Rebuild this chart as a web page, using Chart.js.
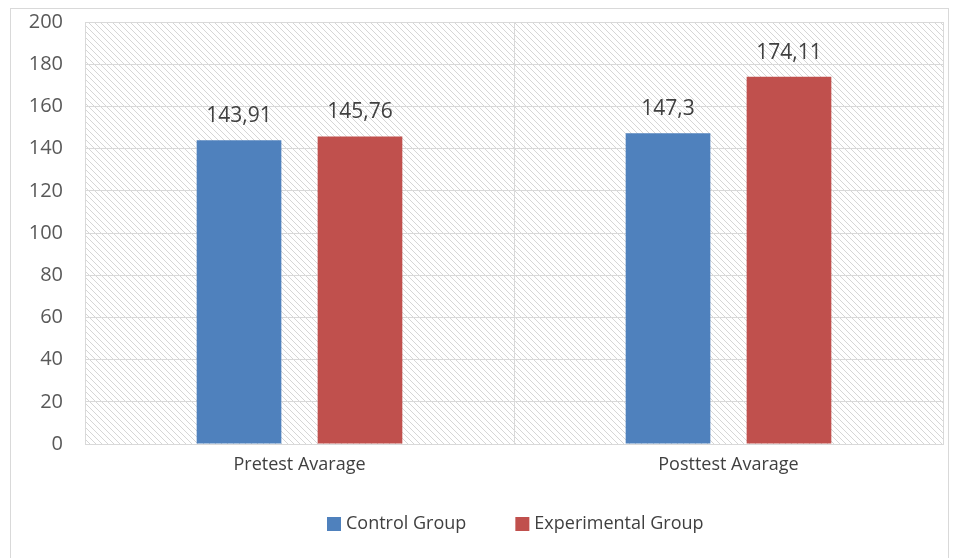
<!DOCTYPE html>
<html>
<head>
<meta charset="utf-8">
<script src="https://cdn.jsdelivr.net/npm/chart.js@4/dist/chart.umd.min.js"></script>
<style>
  html, body { margin: 0; padding: 0; background: #fff; }
  #wrap { position: relative; width: 963px; height: 558px; }
  #frame { position: absolute; left: 10px; top: 8px; width: 937px; height: 560px; border: 1px solid #d9d9d9; }
  canvas { position: absolute; left: 0; top: 0; }
</style>
</head>
<body>
<div id="wrap">
  <div id="frame"></div>
  <canvas id="chart" width="963" height="558"></canvas>
</div>
<script>
const categories = ['Pretest Avarage', 'Posttest Avarage'];
const controlGroup = [143.91, 147.3];
const experimentalGroup = [145.76, 174.11];
const seriesNames = ['Control Group', 'Experimental Group'];

const FONT = '"Open Sans", sans-serif';

// diagonal hatch for the plot background
function makeHatch() {
    const c = document.createElement('canvas');
    c.width = 6; c.height = 6;
    const g = c.getContext('2d');
    g.fillStyle = '#ffffff';
    g.fillRect(0, 0, 6, 6);
    g.strokeStyle = '#d6d6d6';
    g.lineWidth = 1;
    g.beginPath();
    g.moveTo(0, 0); g.lineTo(6, 6);
    g.moveTo(-3, 3); g.lineTo(3, 9);
    g.moveTo(3, -3); g.lineTo(9, 3);
    g.stroke();
    return c;
}

const hatchBg = {
    id: 'hatchBg',
    beforeDraw(chart) {
        const { ctx, chartArea: a } = chart;
        ctx.save();
        ctx.fillStyle = ctx.createPattern(makeHatch(), 'repeat');
        ctx.fillRect(a.left, a.top, a.right - a.left, a.bottom - a.top);
        ctx.restore();
    }
};

const valueLabels = {
    id: 'valueLabels',
    afterDatasetsDraw(chart) {
        const ctx = chart.ctx;
        ctx.save();
        ctx.font = '21px ' + FONT;
        ctx.fillStyle = '#404040';
        ctx.textAlign = 'center';
        ctx.textBaseline = 'middle';
        chart.data.datasets.forEach((ds, i) => {
            chart.getDatasetMeta(i).data.forEach((bar, j) => {
                const txt = String(ds.data[j]).replace('.', ',');
                ctx.fillText(txt, bar.x, bar.y - 24);
            });
        });
        ctx.restore();
    }
};

// legend drawn by hand so the spacing matches the original
const bottomLegend = {
    id: 'bottomLegend',
    afterDraw(chart) {
        const ctx = chart.ctx;
        ctx.save();
        ctx.font = '18px ' + FONT;
        ctx.textBaseline = 'middle';
        let x = 327;
        const y = 524;
        chart.data.datasets.forEach(ds => {
            ctx.fillStyle = ds.backgroundColor;
            ctx.fillRect(x, y - 7, 14, 14);
            ctx.fillStyle = '#404040';
            ctx.fillText(ds.label, x + 19, y);
            x += 19 + ctx.measureText(ds.label).width + 49;
        });
        ctx.restore();
    }
};

new Chart(document.getElementById('chart'), {
    type: 'bar',
    data: {
        labels: categories,
        datasets: [
            { label: seriesNames[0], data: controlGroup, backgroundColor: '#4f81bd' },
            { label: seriesNames[1], data: experimentalGroup, backgroundColor: '#c0504d' }
        ]
    },
    options: {
        responsive: false,
        animation: false,
        categoryPercentage: 0.564,
        barPercentage: 0.70,
        layout: { padding: { top: 22, right: 20, left: 0, bottom: 55 } },
        plugins: {
            tooltip: { enabled: false },
            legend: { display: false }
        },
        scales: {
            x: {
                grid: { color: '#d9d9d9', drawTicks: false, offset: true },
                border: { color: '#d9d9d9' },
                ticks: { color: '#404040', padding: 10, font: { family: FONT, size: 18 } },
                afterFit(scale) { scale.height = 59; }
            },
            y: {
                min: 0, max: 200,
                ticks: { stepSize: 20, color: '#595959', padding: 0, font: { family: FONT, size: 20 } },
                grid: { color: '#d9d9d9', tickLength: 22, tickColor: 'rgba(0,0,0,0)' },
                border: { color: '#d9d9d9' },
                afterFit(scale) { scale.width = 85; }
            }
        }
    },
    plugins: [hatchBg, valueLabels, bottomLegend]
});
</script>
</body>
</html>
